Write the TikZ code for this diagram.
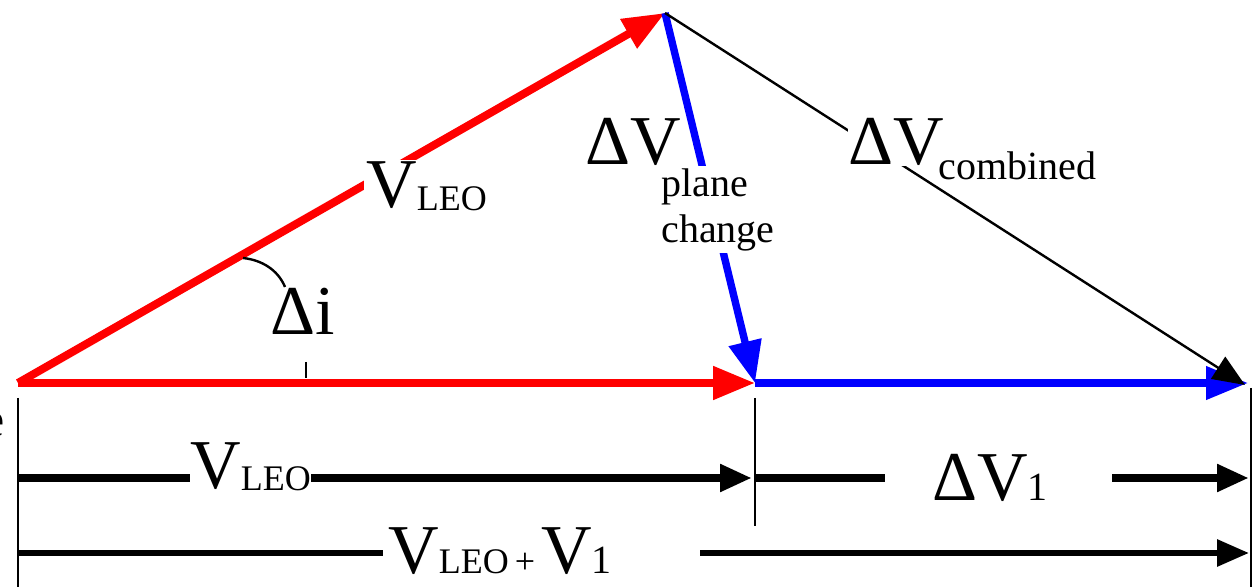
\documentclass[tikz,border=0pt]{standalone}
\usepackage{fontspec}
\setmainfont{Liberation Serif}
\usetikzlibrary{arrows.meta}
\newcommand\bigsz{\fontsize{35}{38}\selectfont}
\newcommand\subsz{\fontsize{18}{20}\selectfont}
\newcommand\subszb{\fontsize{20}{22}\selectfont}
\begin{document}
\begin{tikzpicture}[x=0.5pt,y=-0.5pt,
  redvec/.style={draw=red, line width=4pt, -{Triangle[length=21pt,width=16pt]}},
  bluevec/.style={draw=blue, line width=3.7pt, -{Triangle[length=21pt,width=16pt]}},
  thinvec/.style={draw=black, line width=1.2pt, -{Triangle[length=16pt,width=13pt]}},
  dimA/.style={draw=black, line width=4pt},
  dimB/.style={draw=black, line width=3pt},
  dimtip/.style={-{Triangle[length=16pt,width=13pt]}},
  guide/.style={draw=black, line width=1pt},
  lbl/.style={font=\bigsz, inner sep=1pt, fill=white},
  sublbl/.style={font=\subszb, inner sep=1pt, fill=white, align=left},
]
\useasboundingbox (0,0) rectangle (1258,587);

% main points
\coordinate (O) at (18,383);
\coordinate (A) at (665,13);
\coordinate (M) at (755,383);
\coordinate (R) at (1248,383);

% vectors
\draw[redvec] (O) -- (A);
\draw[redvec] (O) -- (M);
\draw[bluevec] (A) -- (M);
\draw[bluevec] (M) -- (R);
\coordinate (Rb) at (1245,385);
\draw[thinvec] (A) -- (Rb);

% angle arc and tick
\coordinate (arcS) at (243,258);
\coordinate (arcE) at (285,287);
\draw[line width=1.2pt] (arcS) .. controls (262,260) and (278,270) .. (arcE);
\coordinate (tickT) at (306,362);
\coordinate (tickB) at (306,378);
\draw[guide] (tickT) -- (tickB);

% vertical guides
\coordinate (vL1) at (18,398);
\coordinate (vL2) at (18,587);
\coordinate (vM1) at (755,398);
\coordinate (vM2) at (755,526);
\coordinate (vR1) at (1251,388);
\coordinate (vR2) at (1251,587);
\draw[guide] (vL1) -- (vL2);
\draw[guide] (vM1) -- (vM2);
\draw[guide] (vR1) -- (vR2);

% dimension row 1
\coordinate (d1l) at (18,478);
\coordinate (d1m) at (752,478);
\coordinate (d1ms) at (755,478);
\coordinate (g1a) at (885,478);
\coordinate (g1b) at (1112,478);
\coordinate (d1r) at (1249,478);
\draw[dimA, dimtip] (d1l) -- (d1m);
\draw[dimA] (d1ms) -- (g1a);
\draw[dimA, dimtip] (g1b) -- (d1r);

% dimension row 2
\coordinate (d2l) at (18,553);
\coordinate (g2a) at (383,553);
\coordinate (g2b) at (700,553);
\coordinate (d2r) at (1249,553);
\draw[dimB] (d2l) -- (g2a);
\draw[dimB, dimtip] (g2b) -- (d2r);

% labels
\node[lbl, anchor=base west] (vleoU) at (364,208) {V\raisebox{-1.5pt}{\subsz LEO}};
\node[lbl, anchor=base west, fill=none] (di) at (268,335) {Δi};
\node[lbl, anchor=base west, inner sep=0pt] (dvp) at (585,165) {ΔV};
\node[sublbl, anchor=north west] (dvpsub) at (659,166) {plane\\[1pt]change};
\node[lbl, anchor=base west, inner sep=0pt] (dvc) at (848,165) {ΔV};
\node[sublbl, anchor=base west, inner sep=0pt] (dvcsub) at ([xshift=-3pt,yshift=-7.5pt]dvc.base east) {combined};
\node[lbl, anchor=base west, inner sep=0pt] (vleoB) at (190,488) {V\raisebox{-1pt}{\subsz LEO}};
\node[lbl, anchor=base west, fill=none] (dv1) at (930,500) {ΔV{\subszb 1}};
\node[lbl, anchor=base west, fill=none] (vsum) at (386,573) {V{\subsz LEO\hspace{3pt}+\hspace{3pt}}V{\subszb 1}};
\node[anchor=base east, inner sep=0pt, font=\fontsize{25}{27}\selectfont] (ecut) at (5,437) {e};
\end{tikzpicture}
\end{document}
